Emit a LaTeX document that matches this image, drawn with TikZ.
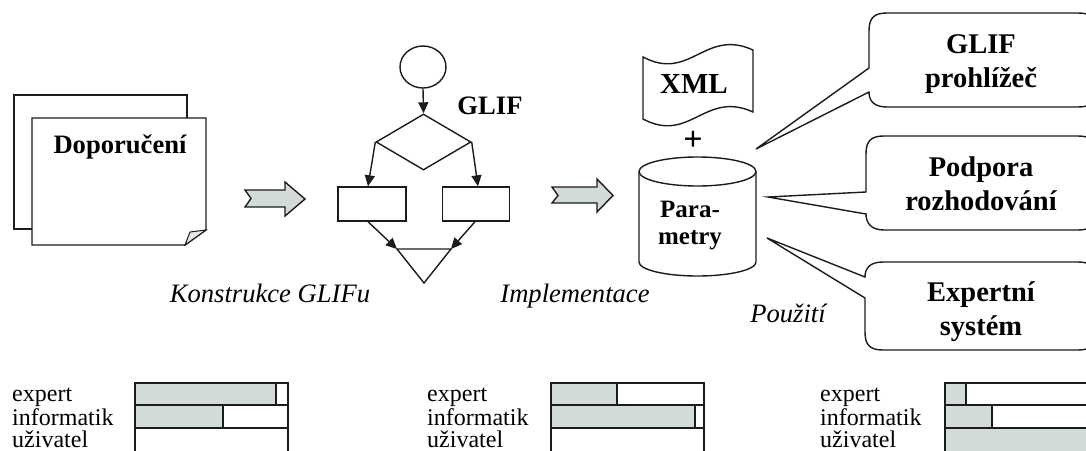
\documentclass[tikz,border=0pt]{standalone}
\usepackage{fontspec}
\setmainfont{Liberation Serif}
\usetikzlibrary{shapes.geometric,arrows.meta}
\definecolor{ink}{HTML}{1C1C1C}
\definecolor{barfill}{HTML}{D3DADA}

\tikzset{
  outline/.style={draw=ink, line width=1.4pt, line join=miter},
  fbox/.style={outline, rectangle, inner sep=0pt},
  flowarr/.style={draw=ink, line width=1.4pt, -{Triangle[length=11pt,width=10pt]}},
  blockarrow/.style={outline, fill=barfill},
  boldlbl/.style={font=\fontsize{26.6}{28}\selectfont\bfseries, inner sep=0pt},
  calltext/.style={font=\fontsize{28.5}{34}\selectfont\bfseries, align=center, inner sep=0pt},
  phase/.style={font=\fontsize{26.6}{28}\selectfont\itshape, inner sep=0pt},
  rolelbl/.style={font=\fontsize{24}{22}\selectfont, align=left, inner sep=0pt},
  bar/.style={draw=ink, line width=1.4pt},
}

\begin{document}
\begin{tikzpicture}[x=1pt,y=-1pt]
\useasboundingbox (0,0) rectangle (1086,450);
\clip (0,0) rectangle (1086,450);
\fill[white] (0,0) rectangle (1086,450);

% --- recommendation pages ---
\draw[outline, fill=white] (14,95) rectangle (187,229);
\draw[outline, fill=white] (32,118) -- (206,118) -- (206,230) -- (185,245) -- (32,245) -- cycle;
\draw[outline, line width=1pt, fill=barfill!60] (185,245) -- (190,232) -- (206,230) -- cycle;
\node[boldlbl, anchor=base] (doc) at (120,153) {Doporučení};

% --- first block arrow ---
\draw[blockarrow] (245,190) -- (285,190) -- (285,182) -- (305,199) -- (285,216)
  -- (285,207) -- (245,207) -- (251,198.5) -- cycle;

% --- GLIF flowchart ---
\node[outline, ellipse, minimum width=46pt, minimum height=42pt, inner sep=0pt] (start) at (423,67) {};
\node[outline, diamond, minimum width=95pt, minimum height=56pt, inner sep=0pt] (dec) at (423.5,142) {};
\node[fbox, minimum width=68pt, minimum height=34pt] (boxL) at (372,204) {};
\node[fbox, minimum width=67pt, minimum height=34pt] (boxR) at (476,204) {};
\coordinate (triL) at (397,249);
\coordinate (triR) at (451,249);
\coordinate (triB) at (424,283);
\draw[outline] (triL) -- (triR) -- (triB) -- cycle;
\draw[flowarr] (start.south) -- (dec.north);
\draw[flowarr] (dec.west) -- ([xshift=-4pt]boxL.north);
\draw[flowarr] (dec.east) -- ([xshift=2pt]boxR.north);
\draw[flowarr] ([xshift=-4pt]boxL.south) -- (triL);
\draw[flowarr] ([xshift=-1pt]boxR.south) -- (triR);
\node[boldlbl, anchor=base] (glif) at (490,114) {GLIF};

% --- second block arrow ---
\draw[blockarrow] (552,187) -- (597,187) -- (597,179) -- (613,195.5) -- (597,212)
  -- (597,203) -- (552,203) -- (558,195.5) -- cycle;

% --- XML banner ---
\draw[outline, fill=white] (643,57) .. controls (690,82) and (705,28) .. (753,50)
  -- (753,112) .. controls (705,90) and (690,144) .. (643,119) -- cycle;
\node[font=\fontsize{29}{30}\selectfont\bfseries, inner sep=0pt, anchor=base] (xml) at (694,93) {XML};
\node[font=\fontsize{34}{36}\selectfont\bfseries, inner sep=0pt, anchor=base] (plus) at (693,150) {+};

% --- parameter store (cylinder) ---
\draw[outline, fill=white] (639,171.5) -- (639,262)
  arc[start angle=180, end angle=360, x radius=58.5pt, y radius=14pt] -- (756,171.5);
\draw[outline] (697.5,171.5) ellipse [x radius=58.5pt, y radius=14.5pt];
\node[font=\fontsize{25}{27}\selectfont\bfseries, align=center, inner sep=0pt, anchor=base] (param) at (690,244) {Para-\\metry};

% --- callouts ---
\draw[outline, fill=white] (869,68) -- (869,31) .. controls (869,18) and (874,13) .. (887,13)
  -- (1078,13) .. controls (1091,13) and (1096,18) .. (1096,31)
  -- (1096,89) .. controls (1096,102) and (1091,107) .. (1078,107)
  -- (887,107) .. controls (874,107) and (869,101) .. (869,92) -- (756,149) -- cycle;
\draw[outline, fill=white] (866,192) -- (866,154) .. controls (866,141) and (871,136) .. (884,136)
  -- (1078,136) .. controls (1091,136) and (1096,141) .. (1096,154)
  -- (1096,212) .. controls (1096,225) and (1091,230) .. (1078,230)
  -- (884,230) .. controls (871,230) and (866,223) .. (866,214) -- (768,197) -- cycle;
\draw[outline, fill=white] (865,298) -- (865,332) .. controls (865,345) and (870,350) .. (883,350)
  -- (1078,350) .. controls (1091,350) and (1096,345) .. (1096,332)
  -- (1096,280) .. controls (1096,267) and (1091,262) .. (1078,262)
  -- (883,262) .. controls (870,262) and (865,268) .. (865,277) -- (767,238) -- cycle;
\node[calltext, anchor=base] (viewer) at (981,87) {GLIF\\prohlížeč};
\node[calltext, anchor=base] (dss) at (981,210) {Podpora\\rozhodování};
\node[calltext, anchor=base] (expert) at (981,335) {Expertní\\systém};

% --- phase labels ---
\node[phase, anchor=base] (p1) at (270,302) {Konstrukce GLIFu};
\node[phase, anchor=base] (p2) at (575,302) {Implementace};
\node[phase, anchor=base] (p3) at (788,322) {Použití};

% --- role involvement bars ---
\node[rolelbl, anchor=base west] (r1) at (12,447) {expert\\informatik\\uživatel};
\node[rolelbl, anchor=base west] (r2) at (427,447) {expert\\informatik\\uživatel};
\node[rolelbl, anchor=base west] (r3) at (820,447) {expert\\informatik\\uživatel};

% phase 1
\fill[barfill] (135,383) rectangle (276,405);
\fill[barfill] (135,405) rectangle (223,428);
\draw[bar] (135,383) rectangle (288,405);
\draw[bar] (135,405) rectangle (288,428);
\draw[bar] (135,428) rectangle (288,452);
\draw[bar] (276,383) -- (276,405);
\draw[bar] (223,405) -- (223,428);
% phase 2
\fill[barfill] (551,383) rectangle (617,405);
\fill[barfill] (551,405) rectangle (695,428);
\draw[bar] (551,383) rectangle (704,405);
\draw[bar] (551,405) rectangle (704,428);
\draw[bar] (551,428) rectangle (704,452);
\draw[bar] (617,383) -- (617,405);
\draw[bar] (695,405) -- (695,428);
% phase 3
\fill[barfill] (945,383) rectangle (966,405);
\fill[barfill] (945,405) rectangle (992,428);
\fill[barfill] (945,428) rectangle (1098,452);
\draw[bar] (945,383) rectangle (1098,405);
\draw[bar] (945,405) rectangle (1098,428);
\draw[bar] (945,428) rectangle (1098,452);
\draw[bar] (966,383) -- (966,405);
\draw[bar] (992,405) -- (992,428);
\end{tikzpicture}
\end{document}
